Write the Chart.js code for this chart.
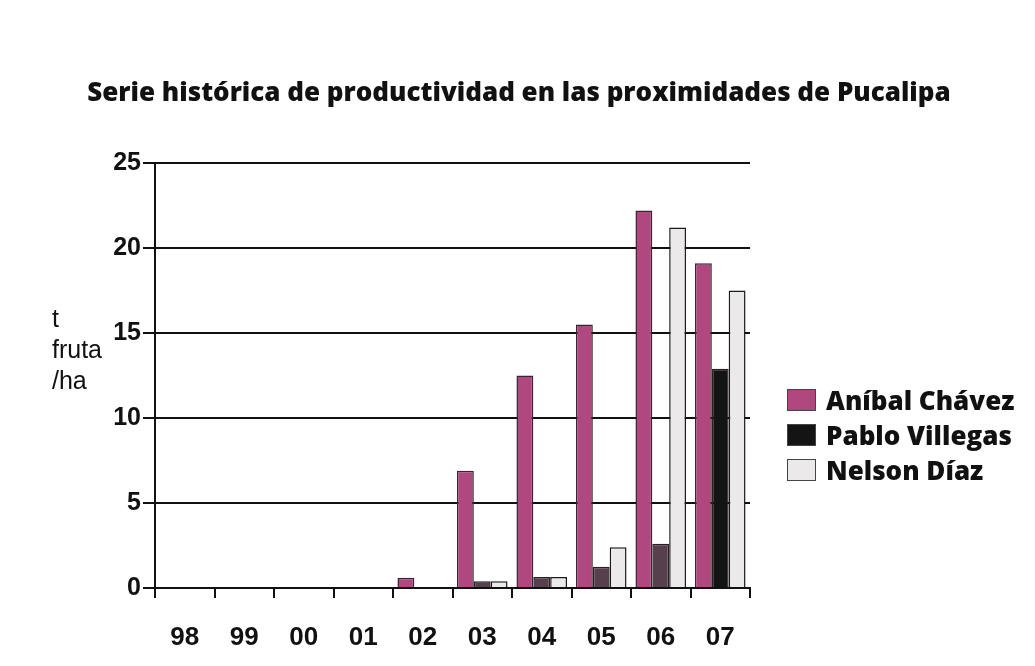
<!DOCTYPE html>
<html lang="es">

<head>
    <meta charset="UTF-8">
    <title>Serie histórica de productividad</title>
    <script src="https://cdn.jsdelivr.net/npm/chart.js"></script>
    <style>
        body {
            margin: 0;
            background: #fff;
        }

        .wrap {
            position: relative;
            width: 1035px;
            height: 666px;
        }

        .chart-title {
            position: absolute;
            left: 0;
            width: 1038px;
            top: 73px;
            text-align: center;
            font: 800 26px "Open Sans", sans-serif;
            color: #111;
            white-space: nowrap;
        }

        .y-title {
            position: absolute;
            left: 52px;
            top: 303px;
            font: 25px "Liberation Sans", Arial, sans-serif;
            line-height: 31px;
            color: #111;
        }

        #legend {
            position: absolute;
            left: 787px;
            top: 382px;
            font: 800 26px "Open Sans", sans-serif;
            color: #111;
        }

        #legend .item {
            display: flex;
            align-items: center;
            height: 35px;
            white-space: nowrap;
        }

        #legend .box {
            width: 27px;
            height: 20px;
            margin-right: 10px;
            border: 1px solid #444;
        }
    </style>
</head>

<body>
    <div class="wrap">
        <canvas id="prodChart" width="1035" height="666"></canvas>
        <div class="chart-title">Serie histórica de productividad en las proximidades de Pucalipa</div>
        <div class="y-title">t<br>fruta<br>/ha</div>
        <div id="legend"></div>
    </div>

    <script>
        // años (eje x)
        const years = ['98', '99', '00', '01', '02', '03', '04', '05', '06', '07'];
        // t fruta / ha
        const anibal = [null, null, null, null, 0.6, 6.9, 12.5, 15.5, 22.2, 19.1];
        const pablo = [null, null, null, null, null, 0.4, 0.65, 1.25, 2.6, 12.9];
        const nelson = [null, null, null, null, null, 0.4, 0.65, 2.4, 21.2, 17.5];
        const yTicks = [0, 5, 10, 15, 20, 25];

        const pabloColors = years.map((y) => y === '07' ? '#141414' : '#56404d');

        const ctx = document.getElementById('prodChart');

        const chart = new Chart(ctx, {
            type: 'bar',
            data: {
                labels: years,
                datasets: [
                    {
                        label: 'Aníbal Chávez',
                        data: anibal,
                        backgroundColor: '#b0487f',
                        borderColor: '#3a2432',
                        borderWidth: 1.5,
                        legendColor: '#b0487f'
                    },
                    {
                        label: 'Pablo Villegas',
                        data: pablo,
                        backgroundColor: pabloColors,
                        borderColor: '#2a1e26',
                        borderWidth: 1.5,
                        legendColor: '#141414'
                    },
                    {
                        label: 'Nelson Díaz',
                        data: nelson,
                        backgroundColor: '#ece9eb',
                        borderColor: '#1a1a1a',
                        borderWidth: 1.5,
                        legendColor: '#ece9eb'
                    }
                ]
            },
            options: {
                responsive: false,
                animation: false,
                layout: {
                    padding: { top: 163, right: 285, bottom: 0, left: 0 }
                },
                datasets: {
                    bar: {
                        categoryPercentage: 0.85,
                        barPercentage: 1.0
                    }
                },
                plugins: {
                    legend: { display: false },
                    title: { display: false },
                    tooltip: { enabled: false }
                },
                scales: {
                    x: {
                        afterFit: (scale) => { scale.height = 78; },
                        grid: {
                            display: true,
                            drawOnChartArea: false,
                            drawTicks: true,
                            tickLength: 10,
                            color: '#111',
                            lineWidth: 2
                        },
                        border: { color: '#111', width: 2 },
                        ticks: {
                            padding: 24,
                            color: '#111',
                            font: { family: 'Liberation Sans', size: 26, weight: 'bold' },
                            maxRotation: 0,
                            autoSkip: false
                        }
                    },
                    y: {
                        min: 0,
                        max: 25,
                        afterFit: (scale) => { scale.width = 155; },
                        afterBuildTicks: (scale) => {
                            scale.ticks = yTicks.map((v) => ({ value: v }));
                        },
                        grid: {
                            color: '#111',
                            lineWidth: 2,
                            drawTicks: true,
                            tickLength: 12
                        },
                        border: { color: '#111', width: 2 },
                        ticks: {
                            padding: 2,
                            color: '#111',
                            font: { family: 'Liberation Sans', size: 25, weight: 'bold' }
                        }
                    }
                }
            }
        });

        // leyenda en html a partir de los datasets
        let htmlStr = '';
        chart.data.datasets.forEach((ds) => {
            htmlStr += `<div class="item"><span class="box" style="background:${ds.legendColor}"></span>${ds.label}</div>`;
        });
        document.getElementById('legend').innerHTML = htmlStr;
    </script>
</body>

</html>
